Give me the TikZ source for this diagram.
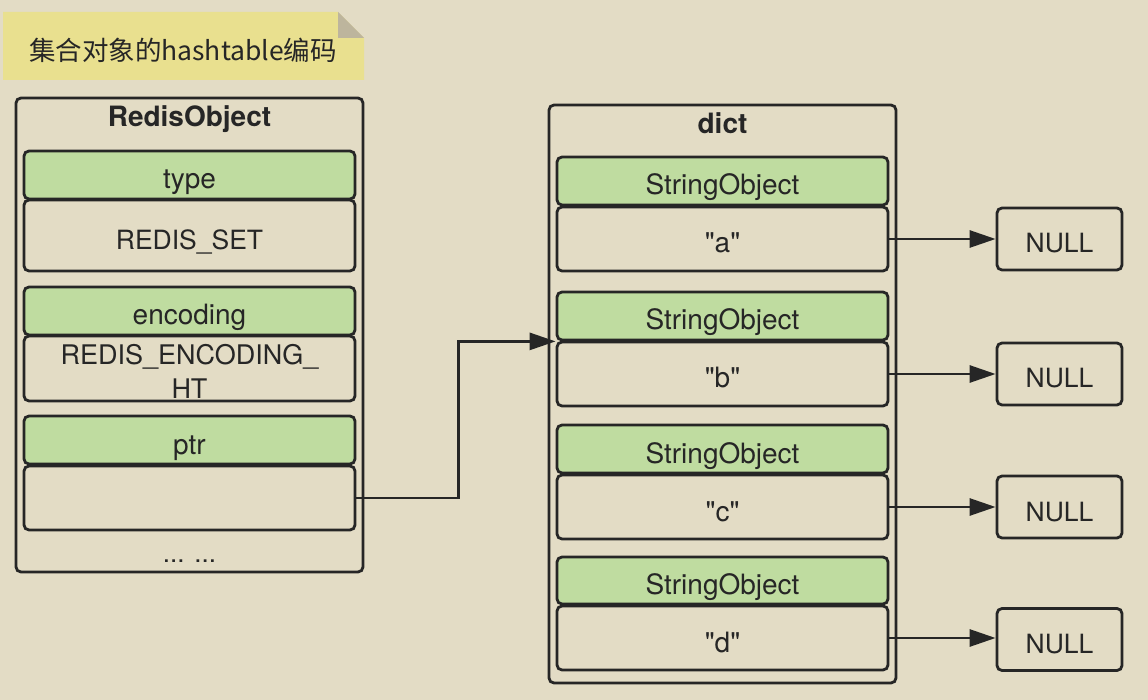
\documentclass[tikz,border=0pt]{standalone}
\usepackage{fontspec}
\setmainfont{TeX Gyre Heros}
\newfontfamily\cjk{Noto Sans CJK SC}
\usetikzlibrary{arrows.meta}
\definecolor{bgc}{HTML}{E3DCC5}
\definecolor{grn}{HTML}{BFDCA0}
\definecolor{note}{HTML}{E9E08F}
\definecolor{fold}{HTML}{BDB59D}
\definecolor{ink}{HTML}{262626}
\tikzset{
  lbl/.style={font=\fontsize{28}{32}\selectfont, text=ink, text height=28pt, text depth=0pt},
  caps/.style={font=\fontsize{26.5}{32}\selectfont},
  outerbox/.style={draw=ink, line width=2.8pt, rounded corners=5pt, fill=bgc, minimum width=347pt, inner sep=0pt},
  field/.style={lbl, draw=ink, line width=2.8pt, rounded corners=5pt, fill=grn, minimum width=331pt, minimum height=48pt, inner sep=0pt},
  val/.style={lbl, draw=ink, line width=2.8pt, rounded corners=5pt, fill=bgc, minimum width=331pt, minimum height=64pt, inner sep=0pt},
  nullbox/.style={lbl, caps, draw=ink, line width=2.8pt, rounded corners=5pt, fill=bgc, minimum width=125pt, minimum height=62pt, inner sep=0pt},
  conn/.style={draw=ink, line width=2.8pt, -{Triangle[length=26pt,width=17pt]}},
  ttl/.style={font=\bfseries\fontsize{28}{32}\selectfont, text=ink, anchor=base, inner sep=0pt},
}
\begin{document}
\begin{tikzpicture}[x=1pt,y=-1pt]
\fill[bgc] (0,0) rectangle (1148,700);
\useasboundingbox (0,0) rectangle (1148,700);
% title note
\fill[note] (3,12) -- (338,12) -- (364,38) -- (364,80) -- (3,80) -- cycle;
\fill[fold] (338,12) -- (338,38) -- (364,38) -- cycle;
\node[text=ink, font=\cjk\fontsize{26.5}{30}\selectfont, inner sep=0pt] (title) at (183,50) {集合对象的hashtable编码};
% RedisObject
\node[outerbox, minimum height=474pt] (ro) at (189.5,335) {};
\node[ttl] (rotitle) at (189.5,127) {RedisObject};
\node[field] (type) at (189.5,175) {type};
\node[val, caps, minimum height=71pt] (typev) at (189.5,235.5) {REDIS\_SET};
\node[field] (enc) at (189.5,311) {encoding};
\node[val, minimum height=65pt] (encv) at (189.5,368.5) {};
\node[text=ink, align=center, font=\fontsize{27}{33}\selectfont, anchor=base, inner sep=0pt] (encvt) at (189.5,398) {REDIS\_ENCODING\_\\HT};
\node[field] (ptr) at (189.5,440) {ptr};
\node[val] (ptrv) at (189.5,498) {};
\node[text=ink, font=\fontsize{26}{32}\selectfont, anchor=base, inner sep=0pt] (dots) at (189.5,562) {... ...};
% dict
\node[outerbox, minimum height=578pt] (dict) at (722.5,394) {};
\node[ttl] (dicttitle) at (722.5,134) {dict};
\node[field] (so1) at (722.5,181) {StringObject};
\node[val] (a) at (722.5,239) {\textquotedbl a\textquotedbl};
\node[field] (so2) at (722.5,316) {StringObject};
\node[val] (b) at (722.5,374) {\textquotedbl b\textquotedbl};
\node[field] (so3) at (722.5,449) {StringObject};
\node[val] (c) at (722.5,507) {\textquotedbl c\textquotedbl};
\node[field, minimum height=47pt] (so4) at (722.5,580.5) {StringObject};
\node[val] (d) at (722.5,638) {\textquotedbl d\textquotedbl};
% NULLs
\node[nullbox] (n1) at (1059.5,239) {NULL};
\node[nullbox] (n2) at (1059.5,374) {NULL};
\node[nullbox] (n3) at (1059.5,507) {NULL};
\node[nullbox] (n4) at (1059.5,639.5) {NULL};
% connectors
\draw[conn] (a.east) -- (a.east -| n1.west);
\draw[conn] (b.east) -- (b.east -| n2.west);
\draw[conn] (c.east) -- (c.east -| n3.west);
\draw[conn] (d.east) -- (d.east -| n4.west);
\draw[conn, rounded corners=0pt] (ptrv.east) -- ++(102,0) |- (so2.south west);
\end{tikzpicture}
\end{document}
